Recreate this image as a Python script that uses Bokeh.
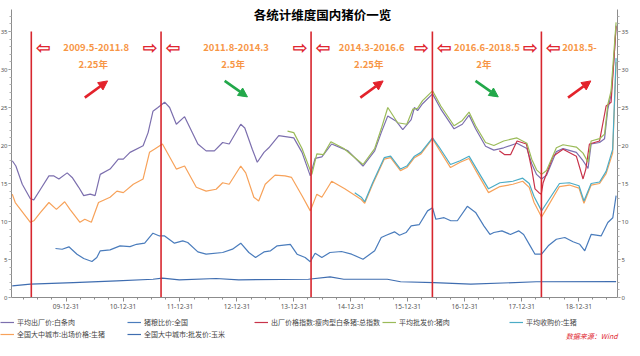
import pandas as pd
from bokeh.plotting import figure
from bokeh.models import (Range1d, LinearAxis, FixedTicker, DatetimeTickFormatter,
                          Legend, LegendItem, Label, Arrow, NormalHead, ColumnDataSource)
from bokeh.embed import file_html
from bokeh.resources import INLINE

FONT = "Noto Sans CJK SC"

title_text = "各统计维度国内猪价一览"
source_text = "数据来源：Wind"

# ---------------- data ----------------
s_pork_exfactory_name = "平均出厂价:白条肉"
s_pork_exfactory_dates = ["2009-01-20", "2009-02-12", "2009-03-25", "2009-05-16", "2009-06-07", "2009-07-20",
    "2009-09-12", "2009-10-14", "2009-11-15", "2010-01-07", "2010-02-08", "2010-03-22", "2010-04-23",
    "2010-06-04", "2010-07-05", "2010-08-07", "2010-10-09", "2010-12-01", "2011-01-02", "2011-02-14",
    "2011-05-09", "2011-06-10", "2011-07-11", "2011-08-12", "2011-09-24", "2011-10-26", "2011-12-08",
    "2012-01-30", "2012-04-24", "2012-06-16", "2012-08-08", "2012-09-30", "2012-11-11", "2013-01-24",
    "2013-02-19", "2013-04-08", "2013-05-10", "2013-06-22", "2013-07-23", "2013-09-25", "2013-11-28",
    "2013-12-30", "2014-02-21", "2014-04-15", "2014-05-16", "2014-06-28", "2014-08-30", "2014-12-13",
    "2015-03-19", "2015-06-02", "2015-07-14", "2015-08-25", "2015-10-18", "2015-11-29", "2016-01-22",
    "2016-02-12", "2016-03-03", "2016-04-04", "2016-06-07", "2016-07-30", "2016-10-23", "2016-12-15",
    "2017-01-27", "2017-03-10", "2017-05-13", "2017-07-05", "2017-09-06", "2017-11-30", "2018-02-02",
    "2018-03-05", "2018-04-05", "2018-05-07", "2018-06-08", "2018-08-10", "2018-09-22", "2018-12-16",
    "2019-01-28", "2019-03-01", "2019-03-21", "2019-05-14", "2019-06-15", "2019-07-06", "2019-07-27",
    "2019-08-13", "2019-08-28"]
s_pork_exfactory_vals = [18.0, 17.3, 14.9, 13.0, 12.85, 14.25, 16.0, 16.0, 15.6, 16.4, 15.8, 14.5, 13.4,
    13.6, 13.4, 16.2, 16.9, 18.2, 18.2, 19.1, 19.96, 21.7, 24.5, 25.0, 25.7, 25.0, 22.8,
    23.8, 20.2, 19.3, 19.3, 20.4, 20.2, 22.8, 22.3, 19.5, 17.8, 19.1, 19.7, 21.3, 21.1,
    21.0, 19.1, 16.0, 18.3, 18.5, 20.2, 19.3, 17.3, 19.3, 21.7, 23.9, 23.2, 22.1, 23.4,
    25.0, 24.6, 25.5, 26.8, 24.8, 22.2, 22.8, 24.0, 22.2, 19.9, 19.4, 19.7, 20.3, 19.6,
    17.6, 16.2, 15.6, 16.1, 19.2, 19.6, 19.1, 18.0, 17.0, 20.2, 20.4, 20.9, 24.8, 26.7,
    31.0, 35.8]

s_ratio_name = "猪粮比价:全国"
s_ratio_dates = ["2009-10-24", "2009-12-06", "2010-01-18", "2010-03-11", "2010-04-23", "2010-06-15",
    "2010-07-16", "2010-08-07", "2010-10-09", "2010-12-12", "2011-02-14", "2011-03-28", "2011-05-19",
    "2011-07-11", "2011-08-22", "2011-09-24", "2011-11-26", "2012-01-18", "2012-02-19", "2012-04-24",
    "2012-06-16", "2012-09-30", "2012-12-02", "2013-01-24", "2013-03-17", "2013-04-29", "2013-06-22",
    "2013-08-03", "2013-09-15", "2013-12-08", "2014-01-20", "2014-03-13", "2014-04-15", "2014-05-16",
    "2014-06-28", "2014-08-19", "2014-11-01", "2015-01-05", "2015-03-19", "2015-06-02", "2015-07-14",
    "2015-08-15", "2015-10-07", "2015-11-08", "2015-12-20", "2016-01-22", "2016-03-14", "2016-05-06",
    "2016-06-07", "2016-06-28", "2016-08-20", "2016-10-02", "2016-11-13", "2017-01-16", "2017-03-10",
    "2017-05-02", "2017-06-10", "2017-07-05", "2017-08-26", "2017-10-19", "2017-12-11", "2018-01-12",
    "2018-02-23", "2018-03-26", "2018-05-07", "2018-06-19", "2018-08-10", "2018-10-03", "2018-11-25",
    "2019-01-07", "2019-02-08", "2019-03-21", "2019-05-24", "2019-07-06", "2019-08-07", "2019-08-28"]
s_ratio_vals = [6.45, 6.35, 6.67, 5.7, 5.13, 4.74, 5.26, 6.14, 6.27, 6.8, 6.7, 7.0, 7.15,
    8.46, 8.1, 8.1, 7.15, 7.46, 7.24, 6.0, 5.7, 5.92, 6.36, 7.15, 5.92, 5.26, 6.0,
    6.14, 6.8, 7.0, 5.7, 5.26, 4.7, 5.83, 5.26, 5.92, 6.05, 5.7, 5.04, 6.14, 7.9,
    8.2, 8.64, 8.2, 8.55, 9.43, 9.6, 11.4, 11.8, 10.3, 10.5, 10.1, 10.1, 12.0, 11.2,
    9.43, 8.3, 8.55, 8.77, 8.3, 8.77, 8.3, 6.8, 5.7, 5.7, 6.8, 7.67, 7.9, 7.33,
    7.0, 6.14, 8.3, 8.1, 9.87, 10.5, 13.4]

s_index_name = "出厂价格指数:瘦肉型白条猪:总指数"
s_index_dates = ["2017-08-09", "2017-09-13", "2017-10-20", "2017-12-01", "2018-01-30", "2018-03-05",
    "2018-03-26", "2018-04-20", "2018-05-05", "2018-05-17", "2018-07-20", "2018-09-22", "2018-12-16",
    "2019-01-28", "2019-02-15", "2019-03-10", "2019-05-14", "2019-06-25", "2019-07-27", "2019-08-28"]
s_index_vals = [19.3, 18.8, 18.8, 20.6, 20.2, 16.9, 14.3, 13.8, 13.6, 15.1, 18.6, 19.5, 18.6,
    15.6, 16.9, 20.2, 20.6, 25.2, 25.7, 35.7]

s_wholesale_name = "平均批发价:猪肉"
s_wholesale_dates = ["2013-11-20", "2013-12-30", "2014-02-21", "2014-04-25", "2014-05-27", "2014-07-08",
    "2014-08-25", "2014-11-16", "2015-03-19", "2015-06-02", "2015-07-14", "2015-08-25", "2015-10-27",
    "2015-12-25", "2016-02-02", "2016-03-03", "2016-04-04", "2016-06-07", "2016-07-30", "2016-10-23",
    "2016-12-15", "2017-01-27", "2017-03-10", "2017-05-13", "2017-07-05", "2017-09-06", "2017-11-30",
    "2018-02-02", "2018-03-05", "2018-04-05", "2018-05-07", "2018-06-08", "2018-08-10", "2018-09-22",
    "2018-12-16", "2019-01-28", "2019-03-01", "2019-03-21", "2019-05-14", "2019-06-15", "2019-07-06",
    "2019-07-27", "2019-08-28"]
s_wholesale_vals = [21.9, 21.7, 19.6, 16.2, 18.9, 18.8, 20.5, 19.6, 17.5, 19.6, 22.2, 25.0, 23.0,
    22.8, 24.8, 24.9, 25.9, 27.2, 25.2, 22.6, 23.3, 24.4, 22.6, 20.4, 20.0, 20.6, 21.0,
    20.3, 18.2, 16.8, 16.2, 16.7, 19.7, 20.1, 19.8, 19.0, 17.8, 20.6, 20.9, 21.5, 25.4,
    27.2, 36.2]

s_purchase_name = "平均收购价:生猪"
s_purchase_dates = ["2015-01-25", "2015-03-08", "2015-03-30", "2015-05-20", "2015-08-02", "2015-09-12",
    "2015-11-14", "2015-12-25", "2016-02-12", "2016-03-25", "2016-06-07", "2016-07-19", "2016-09-30",
    "2016-12-01", "2017-01-27", "2017-03-20", "2017-06-01", "2017-08-13", "2017-11-04", "2018-01-06",
    "2018-02-17", "2018-03-20", "2018-05-07", "2018-06-08", "2018-08-30", "2018-11-01", "2019-01-02",
    "2019-02-03", "2019-03-21", "2019-05-14", "2019-06-25", "2019-08-06", "2019-08-28"]
s_purchase_vals = [13.8, 13.2, 12.6, 15.1, 18.4, 18.6, 16.9, 17.3, 18.6, 19.1, 21.0, 19.8, 17.5,
    18.0, 18.6, 16.8, 14.3, 15.1, 15.3, 15.7, 15.0, 13.3, 11.4, 12.4, 15.0, 15.1, 14.7,
    12.7, 15.0, 15.2, 16.6, 19.5, 31.5]

s_city_hog_name = "全国大中城市:出场价格:生猪"
s_city_hog_dates = ["2009-01-20", "2009-02-08", "2009-05-16", "2009-06-07", "2009-07-20", "2009-09-12",
    "2009-10-30", "2009-12-22", "2010-01-25", "2010-03-30", "2010-04-30", "2010-06-11", "2010-07-27",
    "2010-10-09", "2010-11-22", "2011-01-02", "2011-03-07", "2011-05-09", "2011-06-19", "2011-07-20",
    "2011-09-10", "2011-12-08", "2012-01-30", "2012-04-14", "2012-06-16", "2012-08-19", "2012-09-30",
    "2012-11-11", "2013-01-24", "2013-02-25", "2013-04-18", "2013-05-19", "2013-06-30", "2013-09-01",
    "2013-11-04", "2013-12-16", "2014-02-21", "2014-04-15", "2014-05-27", "2014-06-28", "2014-08-30",
    "2014-11-22", "2015-03-08", "2015-03-30", "2015-05-20", "2015-08-02", "2015-09-12", "2015-11-14",
    "2015-12-25", "2016-02-12", "2016-03-25", "2016-06-07", "2016-07-19", "2016-09-30", "2016-12-01",
    "2017-01-27", "2017-03-20", "2017-06-01", "2017-08-13", "2017-11-04", "2018-01-06", "2018-02-17",
    "2018-03-20", "2018-05-07", "2018-06-08", "2018-08-30", "2018-11-01", "2019-01-02", "2019-02-03",
    "2019-03-21", "2019-05-14", "2019-06-25", "2019-08-06", "2019-08-28"]
s_city_hog_vals = [13.6, 12.5, 9.9, 10.1, 11.2, 12.5, 11.6, 12.6, 11.6, 9.9, 10.3, 9.9, 12.5,
    13.2, 14.0, 13.8, 14.9, 15.6, 19.1, 19.5, 20.2, 16.9, 17.3, 14.5, 14.0, 14.25, 15.1,
    14.9, 17.3, 16.4, 13.2, 12.7, 14.9, 16.1, 16.0, 15.8, 13.4, 11.4, 13.6, 13.2, 15.3,
    14.3, 12.9, 12.4, 14.9, 18.2, 18.4, 16.7, 17.1, 18.4, 18.9, 20.9, 19.5, 17.1, 17.8,
    18.3, 16.4, 13.8, 14.6, 14.9, 15.3, 14.5, 12.5, 10.6, 11.7, 14.6, 14.8, 14.4, 12.4,
    14.8, 15.0, 16.3, 19.0, 31.0]

s_corn_name = "全国大中城市:批发价:玉米"
s_corn_dates = ["2009-01-20", "2009-05-16", "2010-02-16", "2010-11-22", "2011-07-11", "2011-09-10",
    "2011-12-27", "2012-08-19", "2013-01-11", "2014-04-03", "2014-08-20", "2014-11-16", "2015-08-22",
    "2015-11-15", "2016-06-16", "2017-02-07", "2018-04-03", "2019-08-28"]
s_corn_vals = [1.54, 1.75, 1.97, 2.2, 2.4, 2.54, 2.33, 2.5, 2.33, 2.4, 2.72, 2.4, 2.4,
    2.07, 1.97, 1.75, 2.07, 2.1]

tick_dates = ["2009-12-31", "2010-12-31", "2011-12-31", "2012-12-31", "2013-12-31",
              "2014-12-31", "2015-12-31", "2016-12-31", "2017-12-31", "2018-12-31"]
y_ticks = [0, 5, 10, 15, 20, 25, 30, 35]
axis_dates = ["2009-01-15", "2019-09-06"]   # span of the time axis
y_axis_top = 37.9

period_bounds = ["2009-05-22", "2011-09-01", "2014-04-20", "2016-06-06", "2018-05-06"]
period_labels = ["2009.5-2011.8", "2011.8-2014.3", "2014.3-2016.6", "2016.6-2018.5", "2018.5-"]
period_years = ["2.25年", "2.5年", "2.25年", "2年", ""]
period_trend = ["up", "down", "up", "down", "up"]

# ---------------- layout geometry ----------------
W, H = 630, 340
def ms(d):
    return pd.Timestamp(d).value / 1e6

ax_l, ax_r = ms(axis_dates[0]), ms(axis_dates[1])
px_l, px_r = 11, 617            # canvas x of left / right value axes
per_px = (ax_r - ax_l) / (px_r - px_l)
x_start = ax_l - px_l * per_px
x_end = ax_r + (W - px_r) * per_px
py_zero, py_top = 297, 9        # canvas y (from top) of value 0 and of axis top
per_py = y_axis_top / (py_zero - py_top)
y_lo = -(H - py_zero) * per_py
y_hi = y_axis_top + py_top * per_py

p = figure(width=W, height=H, x_axis_type="datetime", output_backend="svg",
           toolbar_location=None, x_range=Range1d(x_start, x_end), y_range=Range1d(y_lo, y_hi),
           min_border_left=0, min_border_right=0, min_border_top=0, min_border_bottom=0)
p.outline_line_color = None
p.xgrid.visible = False
p.ygrid.visible = False

series = [
    (s_pork_exfactory_name, s_pork_exfactory_dates, s_pork_exfactory_vals, "#7c6fae"),
    (s_ratio_name, s_ratio_dates, s_ratio_vals, "#4a7cbc"),
    (s_index_name, s_index_dates, s_index_vals, "#c8334a"),
    (s_wholesale_name, s_wholesale_dates, s_wholesale_vals, "#9bbb59"),
    (s_purchase_name, s_purchase_dates, s_purchase_vals, "#4bacc6"),
    (s_city_hog_name, s_city_hog_dates, s_city_hog_vals, "#f7a25a"),
    (s_corn_name, s_corn_dates, s_corn_vals, "#3f6db0"),
]
draw_order = [6, 1, 5, 4, 0, 2, 3]
renderers = {}
for i in draw_order:
    name, d, v, c = series[i]
    src = ColumnDataSource(dict(x=pd.to_datetime(d), y=v))
    renderers[i] = p.line("x", "y", source=src, line_color=c, line_width=1.2)

# x axis, pinned at value 0
xa = p.xaxis[0]
xa.fixed_location = 0
xa.bounds = (ax_l, ax_r)
xa.ticker = FixedTicker(ticks=[ms(t) for t in tick_dates],
                        minor_ticks=[ms(t) for t in pd.date_range("2009-03-31", "2019-06-30", freq="QE")])
fmt = "%y-%m-%d"
xa.formatter = DatetimeTickFormatter(years=fmt, months=fmt, days=fmt, hours=fmt, minutes=fmt,
                                     seconds=fmt, milliseconds=fmt, microseconds=fmt,
                                     hourmin=fmt, minsec=fmt)
xa.axis_line_color = "#8c8c8c"
xa.major_tick_line_color = "#8c8c8c"
xa.minor_tick_line_color = "#8c8c8c"
xa.major_tick_in = 0
xa.major_tick_out = 4
xa.minor_tick_in = 0
xa.minor_tick_out = 2
xa.major_label_text_font = "Noto Sans"
xa.major_label_text_font_size = "6.5px"
xa.major_label_text_color = "#555555"
xa.major_label_standoff = 2

ya = p.yaxis[0]
ya.fixed_location = ax_l
ra = LinearAxis(fixed_location=ax_r)
p.add_layout(ra, "right")
for ax in [ya, ra]:
    ax.bounds = (0, y_axis_top)
    ax.ticker = FixedTicker(ticks=y_ticks, minor_ticks=list(range(0, 38)))
    ax.axis_line_color = "#8c8c8c"
    ax.major_tick_line_color = "#8c8c8c"
    ax.minor_tick_line_color = "#b0b0b0"
    ax.major_tick_in = 0
    ax.major_tick_out = 3
    ax.minor_tick_in = 0
    ax.minor_tick_out = 2
    ax.major_label_text_font = "Noto Sans"
    ax.major_label_text_font_size = "6px"
    ax.major_label_text_color = "#555555"
    ax.major_label_standoff = 1

# period separators
bounds_ms = [ms(b) for b in period_bounds]
p.segment(x0=pd.to_datetime(period_bounds), y0=[0] * len(period_bounds),
          x1=pd.to_datetime(period_bounds), y1=[35] * len(period_bounds),
          line_color="#d7262e", line_width=1.6)

ends = bounds_ms[1:] + [ax_r]
year_ms = 365.25 * 86400000
orange = "#f79646"
for i, b in enumerate(bounds_ms):
    cx = (b + ends[i]) / 2
    p.add_layout(Label(x=cx, y=32.9, text=period_labels[i], text_align="center", text_baseline="middle",
                       text_font=FONT, text_font_size="9.5px", text_font_style="bold", text_color=orange))
    if period_years[i]:
        p.add_layout(Label(x=cx, y=30.7, text=period_years[i], text_align="center", text_baseline="middle",
                           text_font=FONT, text_font_size="9.5px", text_font_style="bold", text_color=orange,
                           x_offset=-3))
    p.add_layout(Label(x=b, y=32.9, x_offset=12, text="⇦", text_align="center", text_baseline="middle",
                       text_font="DejaVu Sans", text_font_size="18px", text_font_style="bold",
                       text_color="#e0262f"))
    if i < len(bounds_ms) - 1:
        p.add_layout(Label(x=ends[i], y=32.9, x_offset=-11, text="⇨", text_align="center",
                           text_baseline="middle", text_font="DejaVu Sans", text_font_size="18px",
                           text_font_style="bold", text_color="#e0262f"))
    up = period_trend[i] == "up"
    col = "#e3222b" if up else "#22a84a"
    y0, y1 = (26.3, 28.5) if up else (28.5, 26.4)
    p.add_layout(Arrow(x_start=cx - 0.2 * year_ms, y_start=y0, x_end=cx + 0.2 * year_ms, y_end=y1,
                       line_color=col, line_width=2.6,
                       end=NormalHead(size=9, fill_color=col, line_color=col)))

# title
p.add_layout(Label(x=(ax_l + ax_r) / 2, y=37.2, x_offset=8, text=title_text, text_align="center",
                   text_baseline="middle", text_font=FONT, text_font_size="12.5px",
                   text_font_style="bold", text_color="#000000"))

# source note
p.add_layout(Label(x=ax_r, y=0, y_offset=-43, text=source_text, text_align="right",
                   text_baseline="bottom", text_font=FONT, text_font_size="7px",
                   text_font_style="italic", text_color="#e0262f"))

# legend (inside the frame, below the time axis)
items = [LegendItem(label=series[i][0], renderers=[renderers[i]]) for i in range(7)]
leg = Legend(items=items, ncols=5, orientation="horizontal", location=(0, 1))
leg.label_text_font = FONT
leg.label_text_font_size = "7px"
leg.label_text_color = "#444444"
leg.glyph_width = 14
leg.glyph_height = 8
leg.label_height = 8
leg.label_width = 108
leg.label_standoff = 3
leg.spacing = 2
leg.padding = 0
leg.margin = 0
leg.border_line_alpha = 0
leg.background_fill_alpha = 0
p.add_layout(leg, "center")

open("out.html", "w").write(file_html(p, INLINE))
